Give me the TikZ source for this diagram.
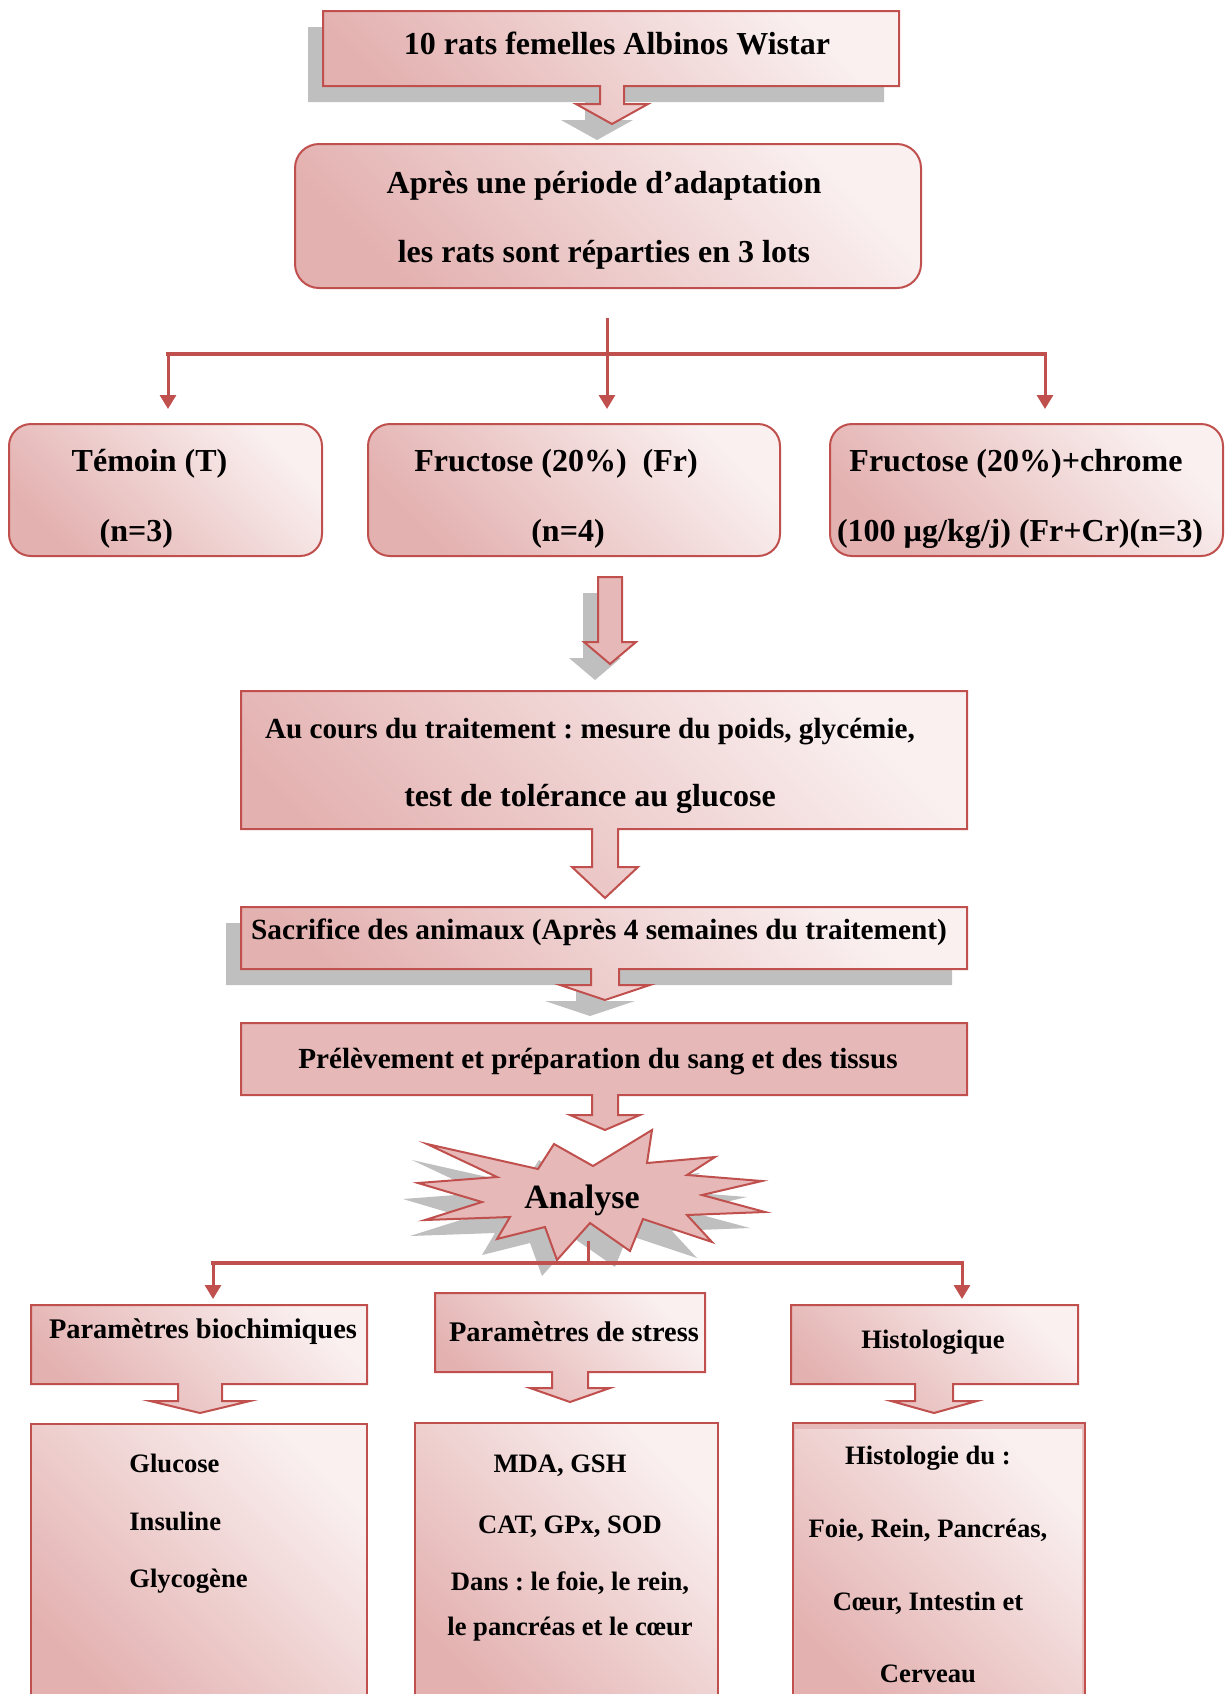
\documentclass[tikz,border=0pt]{standalone}
\usepackage{fontspec}
\setmainfont{Liberation Serif}
\usetikzlibrary{arrows.meta, shadows}
\definecolor{rouge}{HTML}{C0504D}
\definecolor{rosefonce}{HTML}{E3B1B0}
\definecolor{rosepale}{HTML}{FAF0F0}
\definecolor{rose}{HTML}{E6B9B8}
\definecolor{ombre}{HTML}{BFBFBF}
\frenchspacing

\begin{document}
\begin{tikzpicture}[x=0.5pt, y=-0.5pt,
   degrade/.style={top color=rosepale, bottom color=rosefonce, shading angle=-45},
   boite/.style={degrade, draw=rouge, line width=1pt},
   plein/.style={fill=rose, draw=rouge, line width=1pt},
   ombree/.style={drop shadow={shadow xshift=-7.5pt, shadow yshift=-8pt, fill=ombre, opacity=1}},
   lot/.style={boite, rounded corners=11pt, minimum height=66pt, inner sep=0pt},
   grand/.style={font=\fontsize{16}{35}\selectfont\bfseries, align=center},
   moyen/.style={font=\fontsize{14.6}{34}\selectfont\bfseries, align=center},
   entete/.style={font=\fontsize{14.2}{17}\selectfont\bfseries},
   liste/.style={font=\fontsize{13.3}{28.75}\selectfont\bfseries, inner sep=0pt},
   tige/.style={draw=rouge, line width=1.5pt, -{Triangle[width=8pt,length=7pt]}},
   barre/.style={draw=rouge, line width=2pt, line cap=rect}]

\useasboundingbox (0,0) rectangle (1226,1694);
\clip (0,0) rectangle (1226,1694);

\path[boite, ombree] (323,11) -- (899,11) -- (899,86) -- (624,86) -- (624,104) -- (648,104)
   -- (612,124) -- (576,104) -- (600,104) -- (600,86) -- (323,86) -- cycle;
\node[grand] (rats) at (617,43) {10 rats femelles Albinos Wistar};

\node[boite, rounded corners=12pt, minimum width=313pt, minimum height=72pt, grand,
   font=\fontsize{16}{34.5}\selectfont\bfseries] (adapt) at (608,216)
   {\rule{0pt}{15pt}Après une période d’adaptation\hspace*{4pt}\\les rats sont réparties en 3 lots\hspace*{4pt}};

\coordinate (haut) at (607,318);
\coordinate (g1) at (168,354);
\coordinate (d1) at (1045,354);
\coordinate (pt) at (168,409);
\coordinate (pf) at (607,409);
\coordinate (pc) at (1045,409);
\draw[barre] (g1) -- (d1);
\draw[tige] (haut) -- (pf);
\draw[tige] (g1) -- (pt);
\draw[tige] (d1) -- (pc);

\node[lot, minimum width=156.5pt, grand, align=left] (temoin) at (165.5,490)
   {\rule{0pt}{20pt}Témoin (T)\hspace*{16pt}\\\hspace*{14pt}(n=3)};
\node[lot, minimum width=206pt, grand] (fructose) at (574,490)
   {\rule{0pt}{20pt}Fructose (20\%)\ \ (Fr)\hspace*{18pt}\\(n=4)\hspace*{6pt}};
\node[lot, minimum width=196.5pt, grand] (chrome) at (1026.5,490)
   {\rule{0pt}{20pt}Fructose (20\%)+chrome\hspace*{10.5pt}\\(100 µg/kg/j) (Fr+Cr)(n=3)\hspace*{6.5pt}};

\path[plein, ombree] (598,577) -- (622,577) -- (622,642) -- (636,642) -- (610,664)
   -- (584,642) -- (598,642) -- cycle;

\path[boite] (241,691) -- (967,691) -- (967,829) -- (618,829) -- (618,867) -- (638,867)
   -- (605,898) -- (572,867) -- (592,867) -- (592,829) -- (241,829) -- cycle;
\node[moyen] (suivi) at (590,766)
   {Au cours du traitement : mesure du poids, glycémie,\\{\fontsize{16}{34}\selectfont test de tolérance au glucose}};

\path[boite, ombree] (241,907) -- (967,907) -- (967,969) -- (619,969) -- (619,985) -- (650,985)
   -- (605,1000) -- (560,985) -- (591,985) -- (591,969) -- (241,969) -- cycle;
\node[moyen, font=\fontsize{14.65}{17}\selectfont\bfseries] (sacrifice) at (599,932)
   {Sacrifice des animaux (Après 4 semaines du traitement)};

\path[plein] (241,1023) -- (967,1023) -- (967,1095) -- (618,1095) -- (618,1115) -- (640,1115)
   -- (605,1130) -- (570,1115) -- (592,1115) -- (592,1095) -- (241,1095) -- cycle;
\node[moyen] (prelev) at (598,1062) {Prélèvement et préparation du sang et des tissus};

\path[plein, ombree] (427,1144) -- (538,1169) -- (554,1144) -- (593,1166) -- (652,1130)
   -- (647,1163) -- (715,1157) -- (687,1175) -- (762,1181) -- (702,1195) -- (765,1212)
   -- (687,1215) -- (712,1242) -- (643,1219) -- (630,1251) -- (590,1223) -- (557,1260)
   -- (545,1227) -- (497,1239) -- (510,1217) -- (425,1220) -- (482,1202) -- (418,1183)
   -- (497,1177) -- cycle;
\node[font=\fontsize{17}{20}\selectfont\bfseries] (analyse) at (582,1200) {Analyse};

\coordinate (pied) at (588,1241);
\coordinate (j2) at (588,1263);
\coordinate (g2) at (213,1263);
\coordinate (d2) at (962,1263);
\coordinate (pb) at (213,1299);
\coordinate (ph) at (962,1299);
\draw[barre] (g2) -- (d2);
\draw[draw=rouge, line width=1.5pt] (pied) -- (j2);
\draw[tige] (g2) -- (pb);
\draw[tige] (d2) -- (ph);

\path[boite] (31,1305) -- (367,1305) -- (367,1384) -- (222,1384) -- (222,1401) -- (250,1401)
   -- (200,1413) -- (150,1401) -- (178,1401) -- (178,1384) -- (31,1384) -- cycle;
\node[entete] (biochim) at (203,1332) {Paramètres biochimiques};

\path[boite] (435,1293) -- (705,1293) -- (705,1372) -- (588,1372) -- (588,1388) -- (610,1388)
   -- (570,1402) -- (530,1388) -- (552,1388) -- (552,1372) -- (435,1372) -- cycle;
\node[entete] (stress) at (574,1332) {Paramètres de stress};

\path[boite] (791,1305) -- (1078,1305) -- (1078,1384) -- (953,1384) -- (953,1401) -- (977,1401)
   -- (934,1413) -- (891,1401) -- (915,1401) -- (915,1384) -- (791,1384) -- cycle;
\node[entete, font=\fontsize{13.3}{16}\selectfont\bfseries] (histo) at (933,1342) {Histologique};

\path[boite] (31,1424) rectangle (367,1710);
\path[boite] (415,1423) rectangle (718,1710);
\path[plein] (793,1423) rectangle (1085,1710);
\path[degrade] (795,1429) rectangle (1082,1710);

\node[liste, anchor=north west, align=left] (lbiochim) at (129,1454)
   {Glucose\\Insuline\\Glycogène};
\node[liste, anchor=north, align=center, font=\fontsize{13.3}{28}\selectfont\bfseries] (lstress) at (570,1454)
   {MDA, GSH\hspace*{10pt}\\[2.75pt]CAT, GPx, SOD\hspace*{10pt}\\[0.25pt]Dans : le foie, le rein,\\[-5.25pt]le pancréas et le cœur};
\node[liste, anchor=north, align=center, font=\fontsize{13.3}{36.3}\selectfont\bfseries] (lhisto) at (928,1446)
   {Histologie du :\\Foie, Rein, Pancréas,\\Cœur, Intestin et\\Cerveau};
\end{tikzpicture}
\end{document}
